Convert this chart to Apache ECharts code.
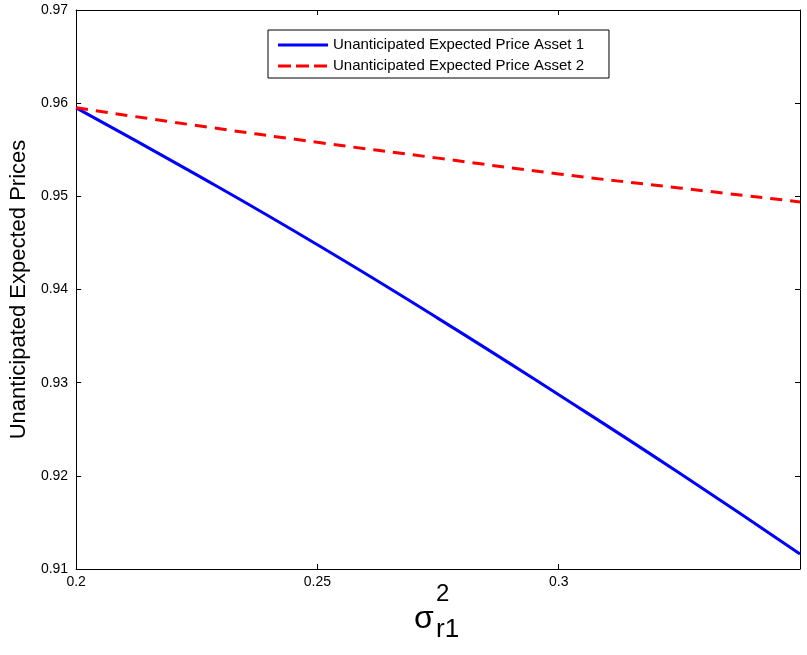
<!DOCTYPE html>
<html>
<head>
<meta charset="utf-8">
<script src="https://cdn.jsdelivr.net/npm/echarts@6/dist/echarts.min.js"></script>
<style>html,body{margin:0;padding:0;background:#fff}#c{width:807px;height:655px}</style>
</head>
<body>
<div id="c"></div>
<script>
var xVals = [0.2, 0.225, 0.25, 0.275, 0.3, 0.325, 0.35];
var asset1 = [0.9595, 0.9523, 0.9448, 0.9369, 0.9287, 0.9203, 0.9116];
var asset2 = [0.9595, 0.9576, 0.9558, 0.9541, 0.9524, 0.9509, 0.9494];
var seriesNames = ['Unanticipated Expected Price Asset 1', 'Unanticipated Expected Price Asset 2'];
var yTitle = 'Unanticipated Expected Prices';

function pairs(ys){ return xVals.map(function(x,i){ return [x, ys[i]]; }); }
var font = 'Liberation Sans, Arial, sans-serif';
var frame = 'M0,0M50,0M0,16M50,16';
var solidIcon = 'path://' + frame + 'M0,6.5H50V9.5H0Z';
var dashIcon = 'path://' + frame + 'M0,6.5H13V9.5H0ZM18,6.5H31V9.5H18ZM36,6.5H49V9.5H36Z';
var chart = echarts.init(document.getElementById('c'));
chart.setOption({
  animation: false,
  backgroundColor: '#fff',
  grid: {left: 75, right: 7, top: 10, bottom: 86, containLabel: false},
  legend: {
    left: 268, top: 30,
    orient: 'vertical',
    padding: [7, 25, 4, 10],
    itemGap: 5,
    itemWidth: 50, itemHeight: 16,
    borderColor: '#000', borderWidth: 1, backgroundColor: '#fff', borderRadius: 0,
    textStyle: {fontFamily: font, fontSize: 15, color: '#000'},
    data: [{name: seriesNames[0], icon: solidIcon}, {name: seriesNames[1], icon: dashIcon}]
  },
  xAxis: [{
    type: 'value', min: 0.2, max: 0.35, interval: 0.05,
    axisLine: {show: true, lineStyle: {color: '#000', width: 1}},
    axisTick: {show: true, inside: true, length: 5, lineStyle: {color: '#000'}},
    axisLabel: {color: '#000', fontFamily: font, fontSize: 14, margin: 6,
      formatter: function(v){ return Math.abs(v-0.35)<1e-9 ? '' : String(+v.toFixed(2)); }},
    splitLine: {show: false}
  }, {
    type: 'value', position: 'top', min: 0.2, max: 0.35, interval: 0.05,
    axisLine: {show: true, lineStyle: {color: '#000', width: 1}},
    axisTick: {show: true, inside: true, length: 5, lineStyle: {color: '#000'}},
    axisLabel: {show: false}, splitLine: {show: false}
  }],
  yAxis: [{
    type: 'value', min: 0.91, max: 0.97, interval: 0.01,
    name: yTitle, nameLocation: 'middle', nameGap: 46,
    nameTextStyle: {fontFamily: font, fontSize: 22, color: '#000'},
    axisLine: {show: true, lineStyle: {color: '#000', width: 1}},
    axisTick: {show: true, inside: true, length: 5, lineStyle: {color: '#000'}},
    axisLabel: {color: '#000', fontFamily: font, fontSize: 14, margin: 8,
      formatter: function(v){ return (+v.toFixed(2)).toString(); }},
    splitLine: {show: false}
  }, {
    type: 'value', position: 'right', min: 0.91, max: 0.97, interval: 0.01,
    axisLine: {show: true, lineStyle: {color: '#000', width: 1}},
    axisTick: {show: true, inside: true, length: 5, lineStyle: {color: '#000'}},
    axisLabel: {show: false}, splitLine: {show: false}
  }],
  graphic: [
    {type: 'text', left: 414, top: 603, style: {text: 'σ', font: '32px ' + font, fill: '#000'}},
    {type: 'text', left: 436, top: 582, style: {text: '2', font: '24px ' + font, fill: '#000'}},
    {type: 'text', left: 436, top: 617, style: {text: 'r1', font: '26px ' + font, fill: '#000'}}
  ],
  series: [{
    name: seriesNames[0], type: 'line', data: pairs(asset1), smooth: true,
    symbol: 'none', color: '#0000ff',
    lineStyle: {color: '#0000ff', width: 3}
  }, {
    name: seriesNames[1], type: 'line', data: pairs(asset2), smooth: true,
    symbol: 'none', color: '#ff0000',
    lineStyle: {color: '#ff0000', width: 3, type: [12, 8]}
  }]
});
</script>
</body>
</html>
